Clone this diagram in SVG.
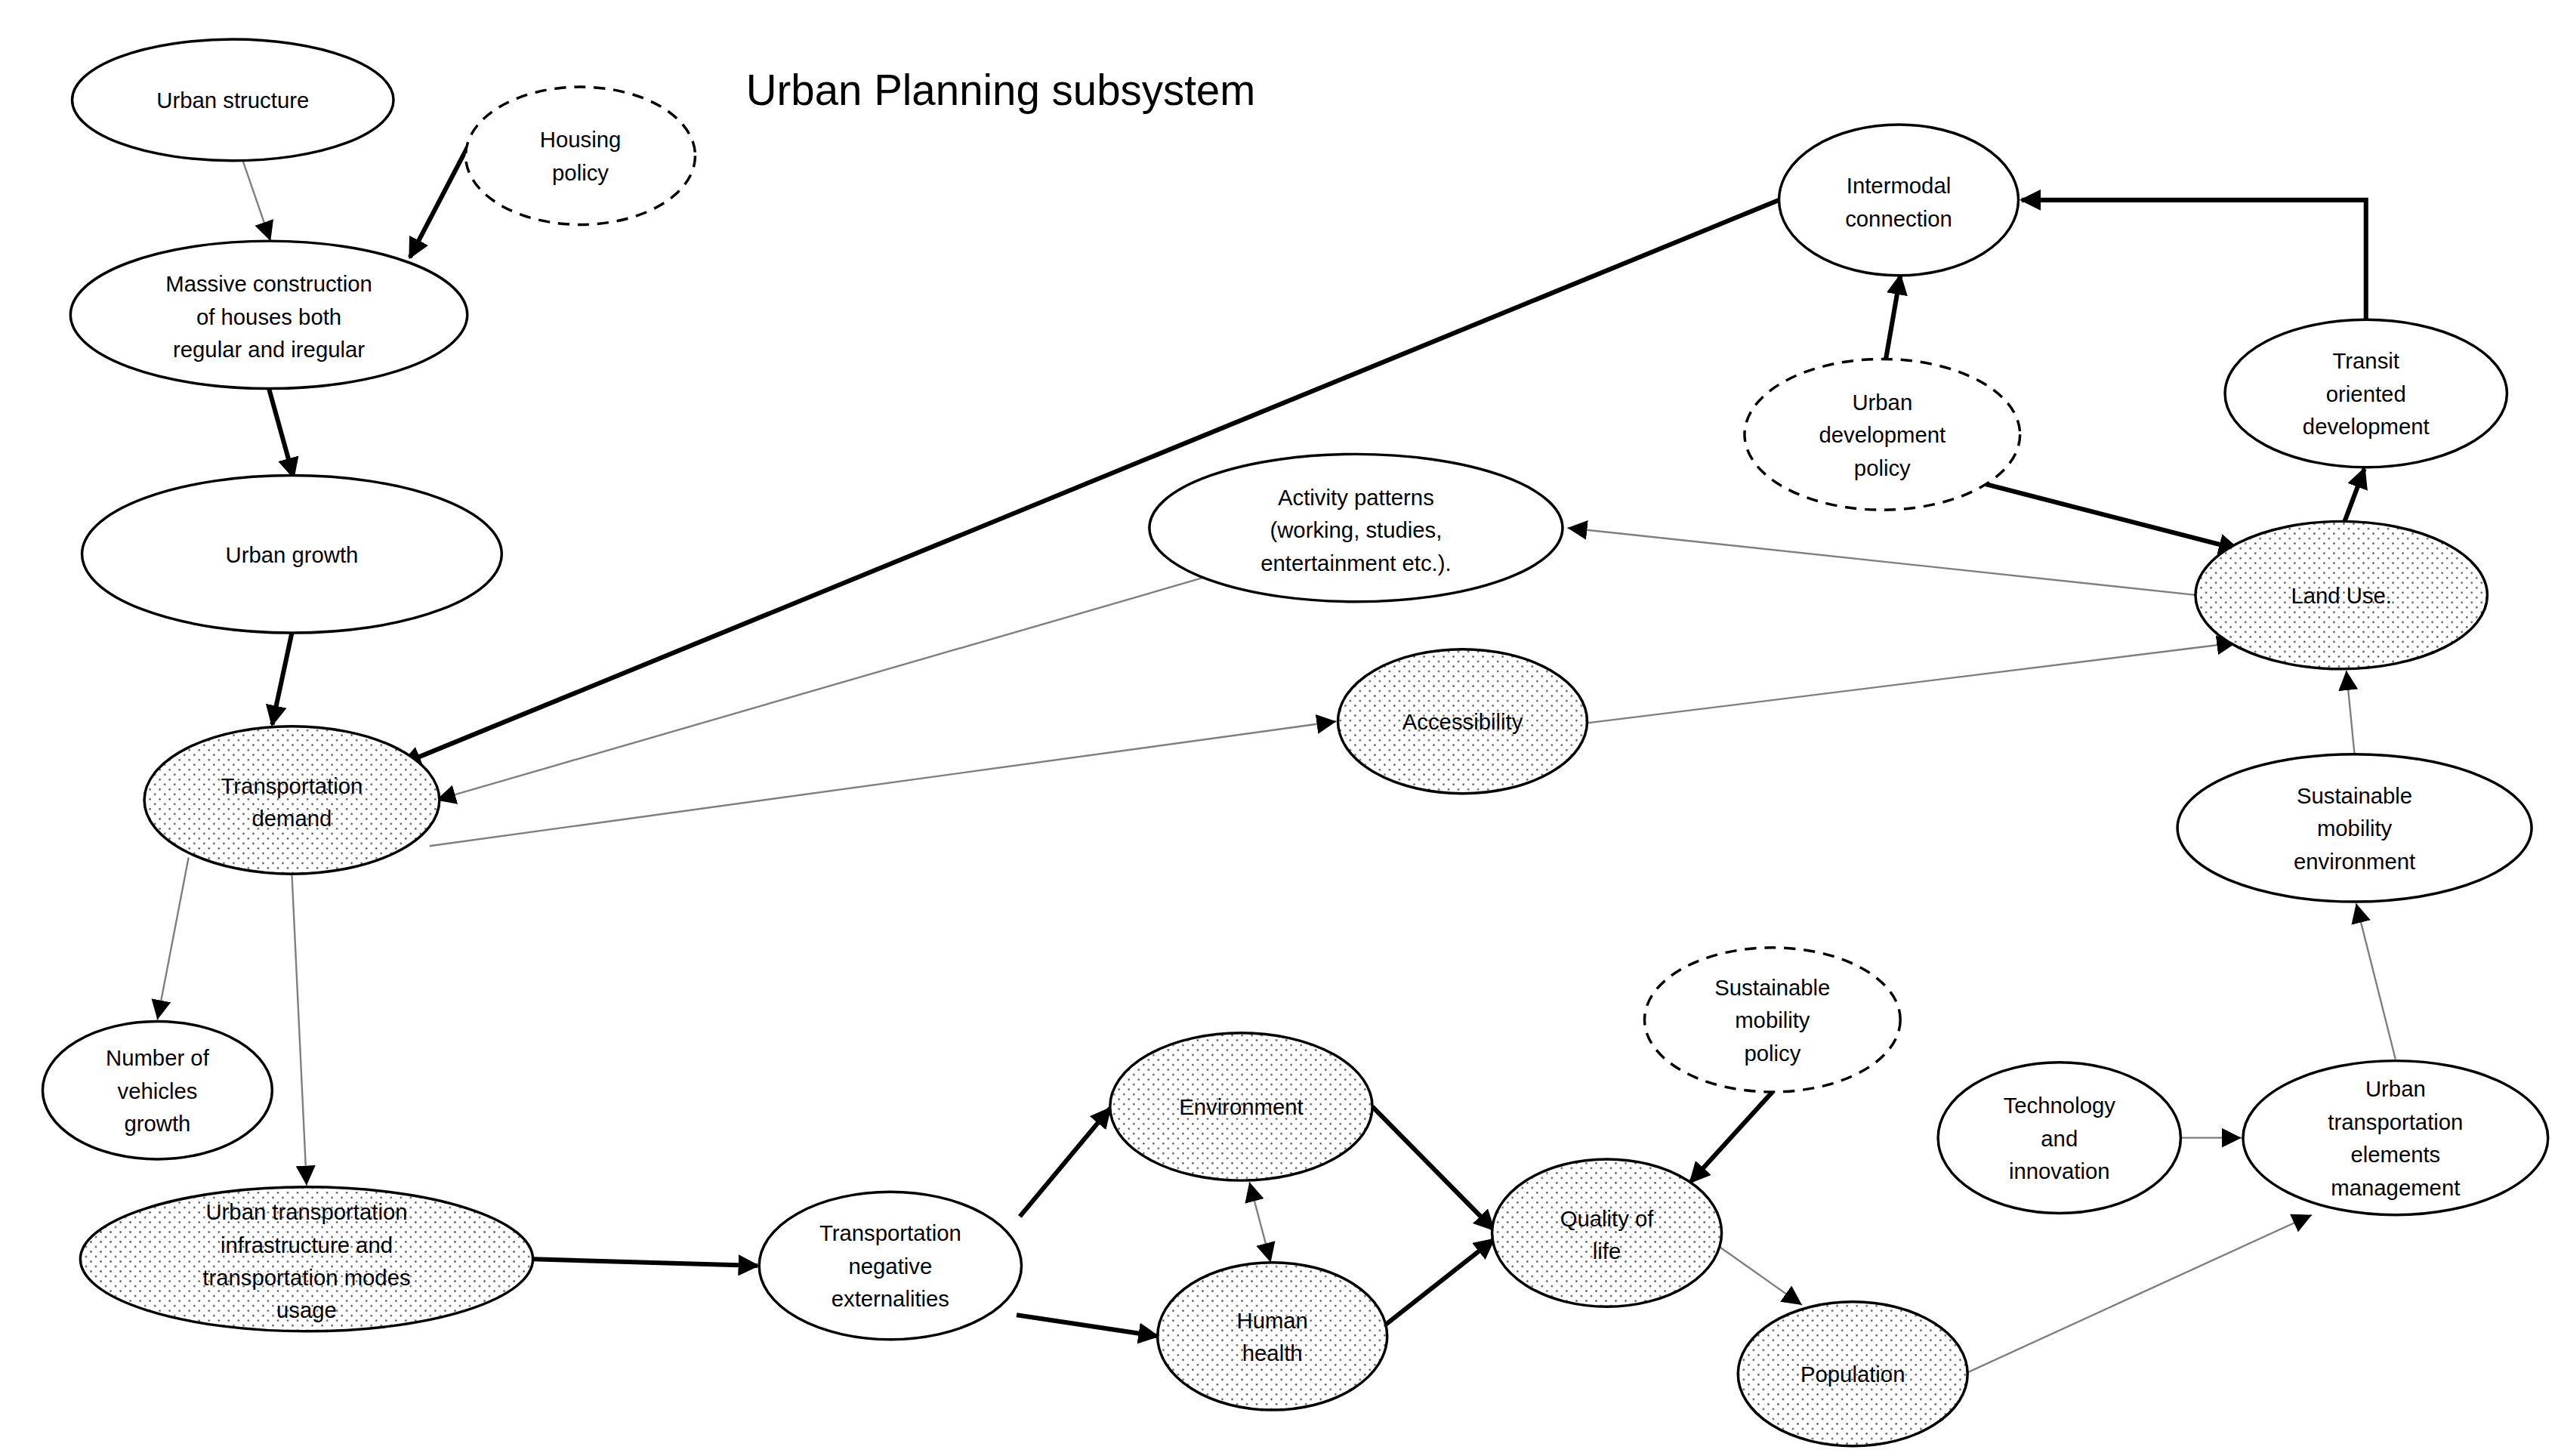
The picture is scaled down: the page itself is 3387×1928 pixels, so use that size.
<svg xmlns="http://www.w3.org/2000/svg" width="3387" height="1928" viewBox="0 0 3387 1928">
<defs>
<style>
.n{fill:#fff;stroke:#000;stroke-width:1.6}
.d{fill:url(#dots);stroke:#000;stroke-width:1.6}
.p{fill:#fff;stroke:#000;stroke-width:1.6;stroke-dasharray:7 5}
text{font-family:"Liberation Sans",Arial,sans-serif;font-size:13.5px;text-anchor:middle;fill:#000}
.thin{stroke:#7f7f7f;stroke-width:1.1;fill:none;marker-end:url(#ah)}
.thick{stroke:#000;stroke-width:2.8;fill:none;marker-end:url(#ahb)}
</style>
<pattern id="dots" width="6" height="6" patternUnits="userSpaceOnUse"><rect width="6" height="6" fill="#fff"/><circle cx="1.5" cy="1.5" r="0.6" fill="#555"/><circle cx="4.5" cy="4.5" r="0.6" fill="#555"/></pattern>
<marker id="ah" markerUnits="userSpaceOnUse" markerWidth="12" markerHeight="12" refX="10" refY="5" orient="auto" viewBox="0 0 10 10"><path d="M0,0L10,5L0,10z" fill="#000"/></marker>
<marker id="ahs" markerUnits="userSpaceOnUse" markerWidth="12" markerHeight="12" refX="10" refY="5" orient="auto-start-reverse" viewBox="0 0 10 10"><path d="M0,0L10,5L0,10z" fill="#000"/></marker>
<marker id="ahb" markerUnits="userSpaceOnUse" markerWidth="13" markerHeight="13" refX="9" refY="5" orient="auto" viewBox="0 0 10 10"><path d="M0,0L10,5L0,10z" fill="#000"/></marker>
</defs>
<rect width="3387" height="1928" fill="#fff"/>
<g transform="scale(2.171)">
<text x="455" y="64" style="font-size:26px;text-anchor:start">Urban Planning subsystem</text>
<g id="connectors">
<line class="thin" x1="146" y1="92" x2="165" y2="147"/>
<line class="thick" x1="285" y1="90" x2="250" y2="157"/>
<line class="thick" x1="164" y1="237" x2="179" y2="291"/>
<line class="thick" x1="178" y1="386" x2="166" y2="442"/>
<line class="thick" x1="1085" y1="122" x2="245" y2="466"/>
<line class="thin" x1="735" y1="352" x2="266" y2="488"/>
<line class="thin" x1="262" y1="516" x2="815" y2="440"/>
<line class="thin" x1="968" y1="441" x2="1364" y2="392"/>
<line class="thin" x1="1340" y1="363" x2="956" y2="322"/>
<line class="thick" x1="1210" y1="295" x2="1365" y2="335"/>
<line class="thick" x1="1150" y1="220" x2="1159" y2="168"/>
<line class="thick" x1="1430" y1="318" x2="1442" y2="286"/>
<polyline class="thick" points="1443,195 1443,122 1233,122"/>
<line class="thin" x1="1436" y1="460" x2="1431" y2="409"/>
<line class="thin" x1="1461" y1="646" x2="1437" y2="551"/>
<line class="thin" x1="1330" y1="694" x2="1367" y2="694"/>
<line class="thin" x1="1198" y1="838" x2="1410" y2="741"/>
<line class="thin" x1="1048" y1="760" x2="1099" y2="796"/>
<line class="thick" x1="1081" y1="666" x2="1031" y2="721"/>
<line class="thick" x1="837" y1="675" x2="911" y2="750"/>
<line class="thick" x1="845" y1="808" x2="911" y2="756"/>
<line class="thin" x1="762" y1="721" x2="775" y2="770" marker-start="url(#ahs)"/>
<line class="thick" x1="622" y1="742" x2="677" y2="676"/>
<line class="thick" x1="620" y1="802" x2="706" y2="815"/>
<line class="thick" x1="325" y1="768" x2="462" y2="772"/>
<line class="thin" x1="115" y1="523" x2="96" y2="622"/>
<line class="thin" x1="178" y1="533" x2="187" y2="723"/>
</g>
<g id="urban-structure"><ellipse class="n" cx="142" cy="61" rx="98" ry="37"/><text x="142" y="66">Urban structure</text></g>
<g id="housing-policy"><ellipse class="p" cx="354" cy="95" rx="70" ry="42"/><text x="354" y="90">Housing</text><text x="354" y="110">policy</text></g>
<g id="massive"><ellipse class="n" cx="164" cy="192" rx="121" ry="45"/><text x="164" y="178">Massive construction</text><text x="164" y="198">of houses both</text><text x="164" y="218">regular and iregular</text></g>
<g id="urban-growth"><ellipse class="n" cx="178" cy="338" rx="128" ry="48"/><text x="178" y="343">Urban growth</text></g>
<g id="transport-demand"><ellipse class="d" cx="178" cy="488" rx="90" ry="45"/><text x="178" y="484">Transportation</text><text x="178" y="504">demand</text></g>
<g id="vehicles"><ellipse class="n" cx="96" cy="665" rx="70" ry="42"/><text x="96" y="650">Number of</text><text x="96" y="670">vehicles</text><text x="96" y="690">growth</text></g>
<g id="infra"><ellipse class="d" cx="187" cy="768" rx="138" ry="44"/><text x="187" y="744">Urban transportation</text><text x="187" y="764">infrastructure and</text><text x="187" y="784">transportation modes</text><text x="187" y="804">usage</text></g>
<g id="externalities"><ellipse class="n" cx="543" cy="772" rx="80" ry="45"/><text x="543" y="757">Transportation</text><text x="543" y="777">negative</text><text x="543" y="797">externalities</text></g>
<g id="environment"><ellipse class="d" cx="757" cy="675" rx="80" ry="45"/><text x="757" y="680">Environment</text></g>
<g id="health"><ellipse class="d" cx="776" cy="815" rx="70" ry="45"/><text x="776" y="810">Human</text><text x="776" y="830">health</text></g>
<g id="quality"><ellipse class="d" cx="980" cy="752" rx="70" ry="45"/><text x="980" y="748">Quality of</text><text x="980" y="768">life</text></g>
<g id="smp"><ellipse class="p" cx="1081" cy="622" rx="78" ry="44"/><text x="1081" y="607">Sustainable</text><text x="1081" y="627">mobility</text><text x="1081" y="647">policy</text></g>
<g id="population"><ellipse class="d" cx="1130" cy="838" rx="70" ry="44"/><text x="1130" y="843">Population</text></g>
<g id="technology"><ellipse class="n" cx="1256" cy="694" rx="74" ry="46"/><text x="1256" y="679">Technology</text><text x="1256" y="699">and</text><text x="1256" y="719">innovation</text></g>
<g id="elements"><ellipse class="n" cx="1461" cy="694" rx="93" ry="47"/><text x="1461" y="669">Urban</text><text x="1461" y="689">transportation</text><text x="1461" y="709">elements</text><text x="1461" y="729">management</text></g>
<g id="sme"><ellipse class="n" cx="1436" cy="505" rx="108" ry="45"/><text x="1436" y="490">Sustainable</text><text x="1436" y="510">mobility</text><text x="1436" y="530">environment</text></g>
<g id="land-use"><ellipse class="d" cx="1428" cy="363" rx="89" ry="45"/><text x="1428" y="368">Land Use.</text></g>
<g id="tod"><ellipse class="n" cx="1443" cy="240" rx="86" ry="45"/><text x="1443" y="225">Transit</text><text x="1443" y="245">oriented</text><text x="1443" y="265">development</text></g>
<g id="udp"><ellipse class="p" cx="1148" cy="265" rx="84" ry="46"/><text x="1148" y="250">Urban</text><text x="1148" y="270">development</text><text x="1148" y="290">policy</text></g>
<g id="intermodal"><ellipse class="n" cx="1158" cy="122" rx="73" ry="46"/><text x="1158" y="118">Intermodal</text><text x="1158" y="138">connection</text></g>
<g id="activity"><ellipse class="n" cx="827" cy="322" rx="126" ry="45"/><text x="827" y="308">Activity patterns</text><text x="827" y="328">(working, studies,</text><text x="827" y="348">entertainment etc.).</text></g>
<g id="accessibility"><ellipse class="d" cx="892" cy="440" rx="76" ry="44"/><text x="892" y="445">Accessibility</text></g>
</g>
</svg>
